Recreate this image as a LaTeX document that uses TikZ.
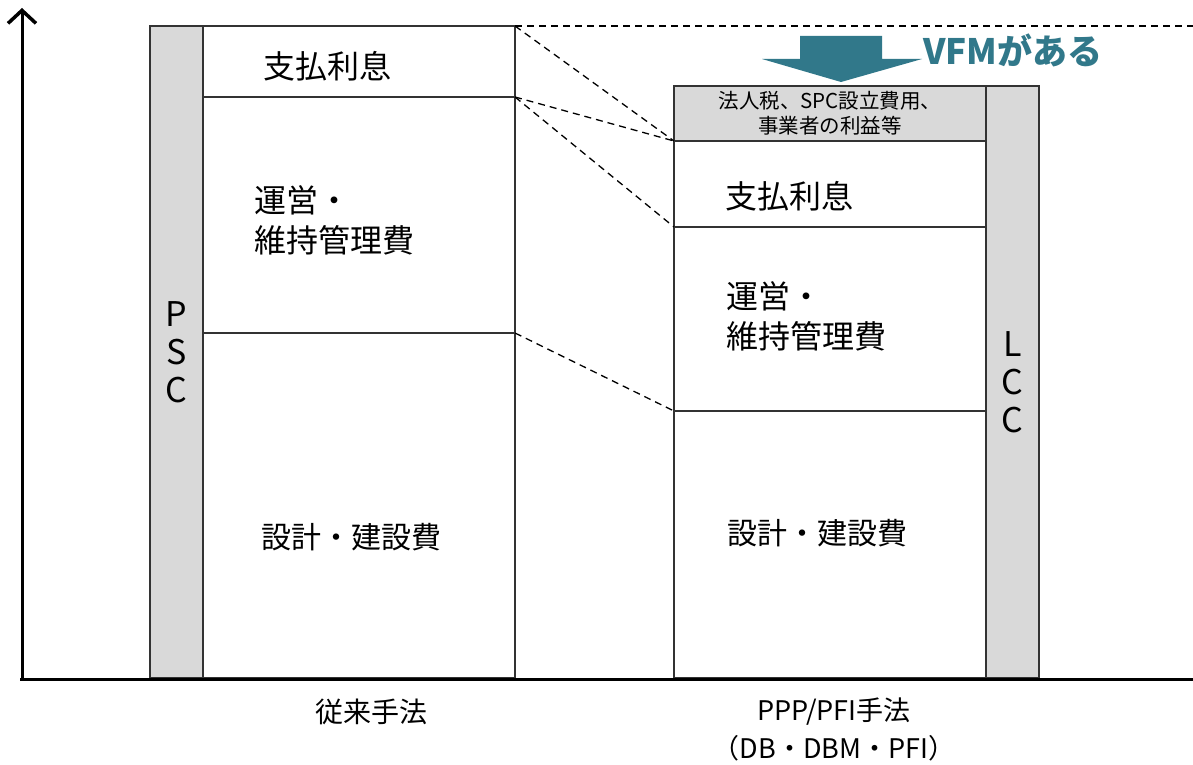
\documentclass[tikz,border=0pt]{standalone}
\usepackage{fontspec}
\setmainfont{Noto Sans CJK JP}
\usetikzlibrary{arrows.meta}
\definecolor{barGray}{HTML}{D9D9D9}
\definecolor{vfmTeal}{RGB}{49,120,138}

\begin{document}
\begin{tikzpicture}[x=1pt,y=-1pt,>={Straight Barb[length=13pt,width=28pt,line width=3.5pt]},
                    box/.style={rectangle,draw=black!80,line width=1.5pt,anchor=north west,inner sep=0pt,outer sep=0pt},
                    bar/.style={box,fill=barGray,align=center},
                    lbl/.style={font=\fontsize{32}{40}\selectfont},
                    link/.style={line width=1.3pt,dash pattern=on 7pt off 5pt}]

  \useasboundingbox (0,0) rectangle (1193,765);

  % 従来手法 (PSC)
  \node[bar,minimum width=53pt,minimum height=652pt,font=\fontsize{34}{38}\selectfont] (psc) at (150,26) {P\\S\\C};
  \node[box,minimum width=312pt,minimum height=71pt]  (lint) at (203,26)  {};
  \node[box,minimum width=312pt,minimum height=236pt] (lope) at (203,97)  {};
  \node[box,minimum width=312pt,minimum height=345pt] (lcon) at (203,333) {};

  % PPP/PFI手法 (LCC)
  \node[bar,minimum width=312pt,minimum height=55pt,font=\fontsize{20.5}{25}\selectfont] (rtax) at (674,86)
       {法人税、SPC設立費用、\\事業者の利益等};
  \node[bar,minimum width=53pt,minimum height=592pt,font=\fontsize{34}{38}\selectfont] (lcc) at (986,86) {L\\C\\C};
  \node[box,minimum width=312pt,minimum height=86pt]  (rint) at (674,141) {};
  \node[box,minimum width=312pt,minimum height=184pt] (rope) at (674,227) {};
  \node[box,minimum width=312pt,minimum height=267pt] (rcon) at (674,411) {};

  % labels
  \node[lbl] (lintlbl) at (327,66) {支払利息};
  \node[lbl,anchor=west,align=left] (lopelbl) at (251,220) {運営・\\維持管理費};
  \node[lbl,font=\fontsize{30}{40}\selectfont] (lconlbl) at (351,537) {設計・建設費};
  \node[lbl] (rintlbl) at (789,196) {支払利息};
  \node[lbl,anchor=west,align=left] (ropelbl) at (723,316) {運営・\\維持管理費};
  \node[lbl,font=\fontsize{30}{40}\selectfont] (rconlbl) at (817,533) {設計・建設費};

  \node[font=\fontsize{28}{30}\selectfont] (oldlbl) at (371,712) {従来手法};
  \node[font=\fontsize{27}{30}\selectfont] (ppplbl) at (834,712) {PPP/PFI手法};
  \node[font=\fontsize{27}{30}\selectfont] (dblbl)  at (834,748) {（DB・DBM・PFI）};

  % axes
  \coordinate (origin) at (22,679);
  \coordinate (ytop) at (22,8);
  \coordinate (xleft) at (20,679);
  \coordinate (xend) at (1193,679);
  \draw[->,line width=3pt] (origin) -- (ytop);
  \draw[line width=3pt] (xleft) -- (xend);

  % VFM
  \coordinate (topend) at (1193,26);
  \draw[link] (lint.north east) -- (topend);
  \draw[link] (lint.north east) -- (rint.north west);
  \draw[link] (lint.south east) -- (rint.north west);
  \draw[link] (lint.south east) -- (rope.north west);
  \draw[link] (lope.south east) -- (rcon.north west);

  \fill[vfmTeal] (800,36) -- (882,36) -- (882,59) -- (922,59) -- (841,82)
                 -- (762,59) -- (800,59) -- cycle;
  \node[font=\fontsize{35}{38}\selectfont\bfseries,text=vfmTeal] (vfmlbl) at (1013,50) {VFMがある};
\end{tikzpicture}
\end{document}
